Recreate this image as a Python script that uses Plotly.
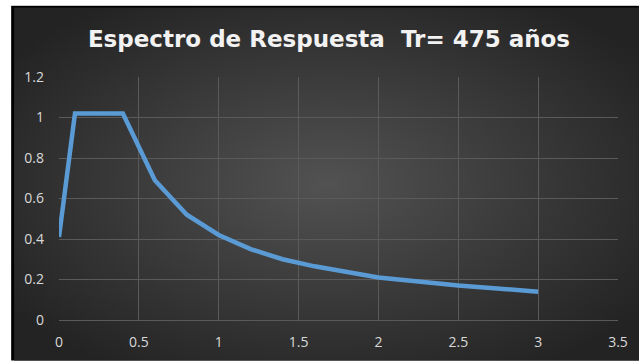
import plotly.graph_objects as go
import base64

# Data
periods = [0, 0.1, 0.4, 0.6, 0.8, 1.0, 1.2, 1.4, 1.6, 1.8, 2.0, 2.5, 3.0]
sa_values = [0.41, 1.02, 1.02, 0.69, 0.52, 0.42, 0.35, 0.30, 0.265, 0.235, 0.21, 0.17, 0.14]
x_ticks = [0, 0.5, 1, 1.5, 2, 2.5, 3, 3.5]
x_tick_labels = ["0", "0.5", "1", "1.5", "2", "2.5", "3", "3.5"]
y_ticks = [0, 0.2, 0.4, 0.6, 0.8, 1.0, 1.2]
y_tick_labels = ["0", "0.2", "0.4", "0.6", "0.8", "1", "1.2"]
title_text = "Espectro de Respuesta  Tr= 475 años"

W, H = 640, 363
ml, mr, mt, mb = 59, 21, 77, 41
pw, ph = W - ml - mr, H - mt - mb

# background panel (radial gradient, black frame)
bx0, bx1, by0, by1 = 11, 640, 5, 363
bw, bh = bx1 - bx0, by1 - by0
svg = f'''<svg xmlns="http://www.w3.org/2000/svg" width="{bw}" height="{bh}" viewBox="0 0 {bw} {bh}" preserveAspectRatio="none">
<defs><radialGradient id="g" cx="50%" cy="50%" r="62%">
<stop offset="0%" stop-color="#525252"/><stop offset="100%" stop-color="#232323"/></radialGradient></defs>
<rect x="0" y="0" width="{bw}" height="{bh}" fill="#000"/>
<rect x="3" y="2" width="{bw-3}" height="{bh-2}" fill="url(#g)"/>
</svg>'''
uri = "data:image/svg+xml;base64," + base64.b64encode(svg.encode()).decode()

def px2paper_x(px):
    return (px - ml) / pw

def py2paper_y(py):
    return (H - mb - py) / ph

fig = go.Figure()
fig.add_trace(go.Scatter(
    x=periods, y=sa_values, mode="lines",
    line=dict(color="#5b9bd5", width=4.5, shape="linear"),
    hoverinfo="skip", showlegend=False,
))

fig.add_layout_image(dict(
    source=uri, xref="paper", yref="paper",
    x=px2paper_x(bx0), y=py2paper_y(by0),
    sizex=bw / pw, sizey=bh / ph,
    xanchor="left", yanchor="top", sizing="stretch", layer="below",
))

fig.update_layout(
    width=W, height=H,
    margin=dict(l=ml, r=mr, t=mt, b=mb, pad=0),
    paper_bgcolor="white",
    plot_bgcolor="rgba(0,0,0,0)",
    title=dict(
        text=title_text, x=329 / W, xanchor="center", y=1 - 39 / H, yanchor="middle",
        font=dict(family="DejaVu Sans", size=23, color="#f2f2f2", weight="bold"),
    ),
    xaxis=dict(
        range=[0, 3.5], tickvals=x_ticks, ticktext=x_tick_labels,
        showgrid=True, gridcolor="#5a5a5a", gridwidth=1,
        zeroline=False, showline=True, linecolor="#5a5a5a", linewidth=1,
        ticks="", ticklabelstandoff=9,
        tickfont=dict(family="Open Sans", size=14, color="#d9d9d9"),
    ),
    yaxis=dict(
        range=[0, 1.2], tickvals=y_ticks, ticktext=y_tick_labels,
        showgrid=True, gridcolor="#5a5a5a", gridwidth=1,
        zeroline=False, showline=False,
        ticks="", ticklabelstandoff=14,
        tickfont=dict(family="Open Sans", size=14, color="#d9d9d9"),
    ),
)

fig.write_html("out.html")
